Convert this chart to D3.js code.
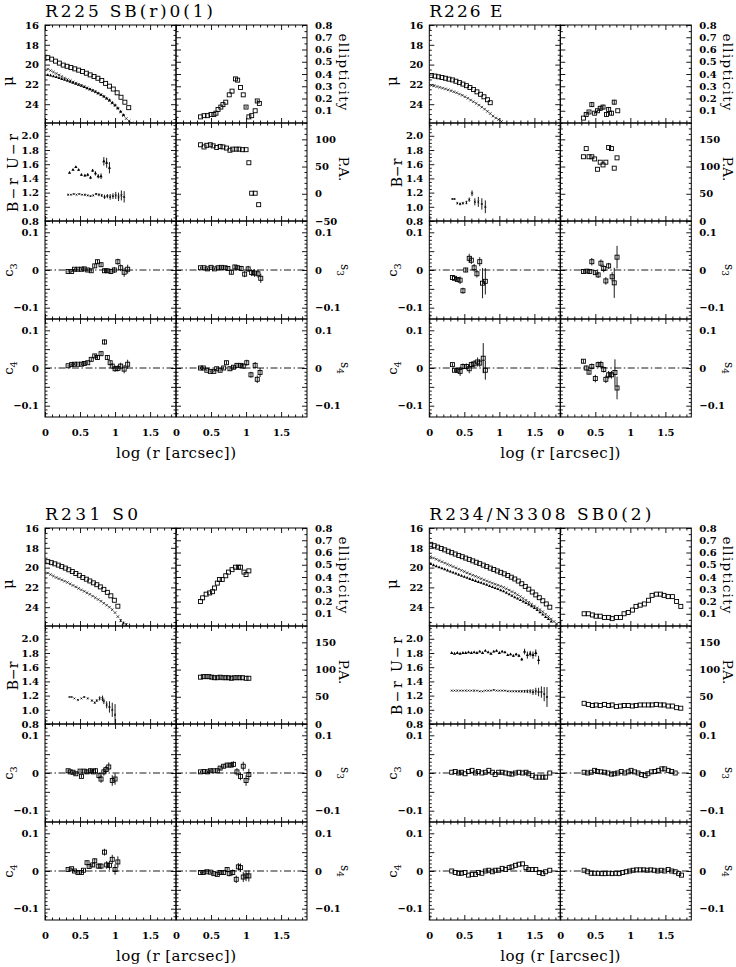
<!DOCTYPE html>
<html><head><meta charset="utf-8">
<script src="https://cdn.jsdelivr.net/npm/d3@7"></script>
<style>body{margin:0;background:#fff}</style>
</head><body>
<svg id="c" width="736" height="967"></svg>
<script>
// ---------------- DATA ----------------
const xTickLabels = [0, 0.5, 1, 1.5];
const muTicks = [16, 18, 20, 22, 24];
const ellTicks = [0.1, 0.2, 0.3, 0.4, 0.5, 0.6, 0.7, 0.8];
const colorTicks = [0.8, 1.0, 1.2, 1.4, 1.6, 1.8, 2.0];
const paTicksR225 = [-50, 0, 50, 100];
const paTicks = [0, 50, 100, 150];
const harmTicks = [-0.1, 0, 0.1];

const titles = ["R225  SB(r)0(1)", "R226  E", "R231  S0", "R234/N3308  SB0(2)"];

// R225  [log r, value, error]
const R225_muR = [[.04,19.3],[.095,19.45],[.15,19.65],[.205,19.85],[.26,20.05],[.315,20.17],[.37,20.3],[.425,20.43],[.48,20.56],[.535,20.7],[.59,20.87],[.645,21.04],[.70,21.2],[.755,21.38],[.81,21.6],[.865,21.9],[.92,22.18],[.975,22.47],[1.03,22.85],[1.085,23.3],[1.14,23.8],[1.195,24.35]];
const R225_muB = [[.04,20.45],[.08,20.6],[.12,20.75],[.16,20.9],[.2,21.05],[.24,21.2],[.28,21.35],[.32,21.5],[.36,21.62],[.4,21.75],[.44,21.87],[.48,22.0],[.52,22.1],[.56,22.22],[.6,22.35],[.64,22.48],[.68,22.6],[.72,22.75],[.76,22.9],[.8,23.05],[.84,23.25],[.88,23.45],[.92,23.65],[.96,23.9],[1.0,24.15],[1.04,24.45],[1.08,24.8],[1.12,25.15],[1.16,25.45],[1.2,25.7],[1.24,25.9]];
const R225_muU = [[.04,21.05],[.08,21.1],[.12,21.18],[.16,21.27],[.2,21.35],[.24,21.45],[.28,21.55],[.32,21.65],[.36,21.75],[.4,21.85],[.44,21.95],[.48,22.05],[.52,22.15],[.56,22.27],[.6,22.4],[.64,22.5],[.68,22.62],[.72,22.75],[.76,22.9],[.8,23.05],[.84,23.2],[.88,23.4],[.92,23.6],[.96,23.85],[1.0,24.1],[1.04,24.4],[1.08,24.75],[1.12,25.1]];
const R225_ell = [[.35,.05],[.40,.06],[.45,.06],[.50,.07],[.54,.07],[.57,.08],[.60,.11],[.64,.13],[.67,.15],[.71,.17],[.76,.23],[.80,.26],[.85,.36,.01],[.88,.35],[.92,.29],[.96,.23],[1.0,.13,.01],[1.04,.05],[1.08,.06],[1.13,.10],[1.16,.18,.01],[1.19,.16]];
const R225_pa = [[.35,90],[.40,86],[.44,89],[.49,90],[.53,88],[.58,85],[.63,87],[.67,86],[.72,84],[.77,80],[.81,82],[.86,82],[.90,82],[.95,81],[1.0,81],[1.04,57],[1.08,1],[1.13,1],[1.18,-20]];
const R225_UR = [[.35,1.48,.01],[.40,1.52,.01],[.44,1.56,.01],[.48,1.52,.01],[.52,1.45,.015],[.57,1.44,.015],[.61,1.45,.02],[.65,1.41,.02],[.68,1.51,.02],[.72,1.47,.03],[.76,1.43,.03],[.80,1.43,.04],[.84,1.64,.06],[.88,1.62,.07],[.92,1.55,.08]];
const R225_BR = [[.33,1.17,.005],[.37,1.17,.005],[.41,1.18,.005],[.45,1.17,.005],[.49,1.18,.005],[.53,1.17,.005],[.57,1.17,.01],[.61,1.16,.01],[.65,1.15,.01],[.69,1.16,.01],[.73,1.18,.015],[.77,1.17,.02],[.81,1.16,.02],[.85,1.14,.03],[.89,1.15,.03],[.93,1.14,.04],[.97,1.15,.04],[1.01,1.16,.05],[1.05,1.14,.06],[1.09,1.16,.07],[1.13,1.14,.08]];
const R225_c3 = [[.33,-.004,.003],[.38,-.004,.003],[.42,.002,.003],[.47,.002,.003],[.52,.002,.003],[.56,.003,.004],[.61,0,.004],[.66,-.002,.005],[.71,.011,.005],[.75,.022,.006],[.8,.014,.006],[.85,-.002,.006],[.89,-.002,.006],[.94,-.004,.007],[.99,0,.008],[1.04,.022,.008],[1.08,.006,.009],[1.13,-.006,.012],[1.18,.002,.012]];
const R225_s3 = [[.35,.006,.003],[.4,.006,.003],[.45,.003,.003],[.5,.007,.003],[.55,.003,.003],[.6,.006,.004],[.65,.007,.004],[.7,.006,.005],[.74,.004,.005],[.79,-.006,.005],[.84,.008,.006],[.88,.006,.006],[.93,.004,.007],[.98,-.011,.008],[1.03,.003,.008],[1.08,-.007,.009],[1.12,-.008,.01],[1.17,-.01,.01],[1.21,-.022,.012]];
const R225_c4 = [[.33,.006,.003],[.38,.009,.003],[.42,.01,.003],[.47,.01,.003],[.52,.01,.003],[.56,.012,.004],[.61,.014,.004],[.66,.023,.005],[.71,.032,.005],[.75,.028,.006],[.8,.038,.006],[.85,.069,.007],[.89,.028,.006],[.93,.014,.006],[.96,.005,.007],[1.0,-.002,.008],[1.04,-.001,.008],[1.08,.005,.009],[1.13,-.003,.011],[1.18,.01,.012]];
const R225_s4 = [[.35,0,.003],[.39,0,.003],[.44,-.006,.003],[.49,-.009,.003],[.54,-.009,.003],[.58,-.002,.004],[.63,-.006,.004],[.68,0,.004],[.72,.014,.005],[.77,-.002,.005],[.82,.002,.005],[.87,.007,.006],[.92,.007,.006],[.96,.005,.007],[1.01,.014,.008],[1.07,-.018,.008],[1.13,.007,.009],[1.16,-.03,.01],[1.2,-.012,.012]];

// R226
const R226_muR = [[.03,21.1],[.08,21.16],[.13,21.23],[.18,21.3],[.23,21.38],[.28,21.47],[.33,21.55],[.38,21.68],[.43,21.82],[.48,21.97],[.53,22.13],[.58,22.32],[.63,22.52],[.68,22.75],[.73,23.0],[.78,23.25],[.83,23.55],[.87,23.85]];
const R226_muB = [[.03,22.1],[.07,22.15],[.11,22.22],[.15,22.3],[.19,22.38],[.23,22.46],[.27,22.55],[.31,22.64],[.35,22.74],[.39,22.85],[.43,22.98],[.47,23.1],[.51,23.25],[.55,23.4],[.59,23.58],[.63,23.75],[.67,23.92],[.71,24.1],[.75,24.3],[.79,24.5],[.83,24.72],[.87,24.95],[.91,25.2],[.95,25.4],[.99,25.55],[1.03,25.75]];
const R226_muU = [];
const R226_ell = [[.33,.04],[.37,.07,.01],[.41,.09,.01],[.45,.15,.02],[.49,.08,.01],[.53,.10,.01],[.57,.12,.02],[.61,.13,.02],[.66,.07,.02],[.69,.11,.02],[.73,.08,.02],[.77,.17,.02],[.82,.10]];
const R226_pa = [[.33,118],[.37,133],[.41,118],[.45,118],[.49,114],[.53,95],[.57,108],[.61,103],[.65,108],[.69,135],[.73,133],[.77,97],[.81,116]];
const R226_UR = [];
const R226_BR = [[.33,1.11,.01],[.36,1.11,.01],[.40,1.05,.015],[.44,1.04,.02],[.48,1.05,.02],[.53,1.06,.025],[.57,1.10,.03],[.61,1.19,.04],[.65,1.07,.05],[.70,1.07,.07],[.75,1.04,.08],[.80,1.00,.09]];
const R226_c3 = [[.33,-.02,.004],[.36,-.022,.004],[.4,-.025,.005],[.44,-.027,.01],[.48,-.055,.008],[.52,0,.006],[.57,.031,.012],[.6,.026,.01],[.64,.006,.01],[.68,-.01,.01],[.72,.022,.012],[.76,-.035,.04],[.8,-.03,.035]];
const R226_s3 = [[.33,-.004,.005],[.38,-.003,.005],[.42,-.004,.005],[.45,.022,.01],[.5,-.007,.006],[.54,-.013,.008],[.58,.018,.01],[.62,.004,.01],[.65,-.029,.01],[.69,.011,.008],[.74,-.018,.012],[.77,-.034,.04],[.81,.034,.03]];
const R226_c4 = [[.33,.009,.004],[.36,-.006,.004],[.4,-.006,.006],[.44,-.009,.012],[.48,.004,.008],[.53,.004,.008],[.57,-.002,.012],[.6,.009,.008],[.64,.011,.01],[.69,.016,.012],[.72,.013,.01],[.77,.026,.04],[.8,-.006,.025]];
const R226_s4 = [[.33,.018,.005],[.37,0,.006],[.41,-.011,.006],[.45,.004,.008],[.5,-.028,.01],[.54,.009,.008],[.58,.009,.01],[.62,-.004,.008],[.65,-.03,.01],[.69,-.018,.01],[.73,-.018,.01],[.78,-.012,.035],[.81,-.053,.03]];

// R231
const R231_muR = [[.04,19.4],[.09,19.5],[.14,19.62],[.19,19.75],[.24,19.9],[.29,20.05],[.34,20.22],[.39,20.4],[.44,20.6],[.49,20.78],[.54,21.0],[.59,21.17],[.64,21.35],[.69,21.54],[.74,21.73],[.79,21.95],[.84,22.2],[.89,22.5],[.94,22.85],[.99,23.3],[1.04,23.9]];
const R231_muB = [[.04,20.55],[.08,20.7],[.12,20.85],[.16,21.0],[.2,21.12],[.24,21.25],[.28,21.37],[.32,21.5],[.36,21.65],[.4,21.8],[.44,21.95],[.48,22.1],[.52,22.25],[.56,22.4],[.6,22.55],[.64,22.7],[.68,22.88],[.72,23.05],[.76,23.22],[.8,23.4],[.84,23.6],[.88,23.8],[.92,24.0],[.96,24.25],[1.0,24.55],[1.04,24.95],[1.08,25.35,.15],[1.12,25.6,.15],[1.16,25.75,.15]];
const R231_muU = [];
const R231_ell = [[.35,.20],[.38,.23],[.43,.26],[.48,.27],[.52,.28],[.55,.31],[.59,.35],[.62,.38],[.66,.38],[.71,.41],[.75,.44],[.8,.46],[.85,.48],[.89,.48],[.92,.48],[.97,.44],[1.0,.42],[1.04,.45]];
const R231_pa = [[.35,86],[.39,87],[.43,87],[.47,87],[.51,86],[.55,85],[.59,85],[.63,86],[.67,85],[.71,85],[.75,85],[.79,84],[.83,85],[.87,85],[.91,85],[.95,85],[1.0,84],[1.04,84]];
const R231_UR = [];
const R231_BR = [[.35,1.18,.005],[.38,1.18,.005],[.42,1.16,.005],[.47,1.14,.008],[.52,1.16,.008],[.56,1.18,.01],[.61,1.16,.01],[.67,1.13,.015],[.71,1.10,.015],[.74,1.13,.02],[.78,1.16,.03],[.82,1.16,.04],[.84,1.12,.04],[.88,1.07,.05],[.92,1.04,.08],[.96,1.0,.1],[1.0,.93,.15]];
const R231_c3 = [[.33,.006,.003],[.36,.003,.003],[.4,.002,.003],[.44,-.002,.004],[.5,.005,.004],[.52,-.009,.004],[.56,.005,.005],[.6,.003,.005],[.65,.006,.006],[.69,.003,.006],[.72,.006,.007],[.77,-.007,.008],[.8,-.016,.01],[.84,.003,.01],[.87,.009,.01],[.91,.016,.012],[.96,-.02,.014],[1.0,-.016,.015]];
const R231_s3 = [[.35,.003,.003],[.4,.004,.003],[.45,.003,.003],[.49,.006,.004],[.54,.006,.004],[.59,.006,.004],[.63,.013,.005],[.68,.018,.005],[.73,.021,.006],[.78,.021,.007],[.82,.023,.008],[.87,.003,.01],[.92,-.009,.01],[.96,.018,.012],[1.0,-.02,.014],[1.04,-.004,.015]];
const R231_c4 = [[.33,.004,.003],[.38,.006,.003],[.42,0,.003],[.47,-.004,.004],[.52,-.004,.004],[.55,.002,.004],[.6,.022,.005],[.63,.012,.005],[.68,.016,.006],[.71,.027,.007],[.76,.013,.007],[.8,.013,.008],[.85,.05,.009],[.88,.016,.01],[.92,.015,.012],[.96,.031,.012],[1.0,.004,.014],[1.04,.024,.015]];
const R231_s4 = [[.35,-.004,.003],[.39,-.004,.003],[.44,-.002,.003],[.49,-.003,.004],[.54,-.007,.004],[.59,-.009,.004],[.63,-.004,.005],[.68,-.004,.005],[.73,.004,.006],[.76,-.007,.007],[.81,-.004,.008],[.86,-.022,.01],[.89,.011,.01],[.92,.009,.011],[.96,-.016,.013],[1.0,-.013,.014],[1.04,-.013,.015]];

// R234 / NGC 3308
const R234_muR = [[.02,17.65],[.07,17.79],[.12,17.93],[.17,18.07],[.22,18.21],[.27,18.35],[.32,18.49],[.37,18.63],[.42,18.77],[.47,18.9],[.52,19.04],[.57,19.17],[.62,19.32],[.67,19.46],[.72,19.6],[.77,19.75],[.82,19.9],[.87,20.05],[.92,20.19],[.97,20.34],[1.02,20.48],[1.07,20.63],[1.12,20.8],[1.17,20.97],[1.22,21.15],[1.27,21.36],[1.32,21.63],[1.37,21.9],[1.42,22.18],[1.47,22.47],[1.52,22.76],[1.57,23.04],[1.62,23.35],[1.67,23.67],[1.72,24.0]];
const R234_muB = [[.02,18.9],[.06,19.03],[.10,19.16],[.14,19.29],[.18,19.41],[.22,19.54],[.26,19.66],[.30,19.78],[.34,19.9],[.38,20.03],[.42,20.15],[.46,20.28],[.50,20.4],[.54,20.53],[.58,20.65],[.62,20.77],[.66,20.88],[.70,21.0],[.74,21.12],[.78,21.23],[.82,21.35],[.86,21.46],[.90,21.57],[.94,21.68],[.98,21.78],[1.02,21.89],[1.06,22.0],[1.10,22.14],[1.14,22.28],[1.18,22.43],[1.22,22.58],[1.26,22.74],[1.30,22.92],[1.34,23.12],[1.38,23.3],[1.42,23.5],[1.46,23.7],[1.50,23.88],[1.54,24.07],[1.58,24.25],[1.62,24.45],[1.66,24.7],[1.70,24.95],[1.74,25.2],[1.78,25.45],[1.82,25.7]];
const R234_muU = [[.02,19.65],[.06,19.76],[.10,19.87],[.14,19.97],[.18,20.08],[.22,20.18],[.26,20.29],[.30,20.4],[.34,20.5],[.38,20.61],[.42,20.72],[.46,20.83],[.50,20.93],[.54,21.04],[.58,21.15],[.62,21.25],[.66,21.35],[.70,21.45],[.74,21.55],[.78,21.65],[.82,21.75],[.86,21.86],[.90,21.97],[.94,22.07],[.98,22.18],[1.02,22.29],[1.06,22.4],[1.10,22.55],[1.14,22.7],[1.18,22.85],[1.22,23.0],[1.26,23.14],[1.30,23.29],[1.34,23.43],[1.38,23.58],[1.42,23.73],[1.46,23.9],[1.50,24.1],[1.54,24.3],[1.58,24.52],[1.62,24.75],[1.66,25.0],[1.70,25.2],[1.74,25.45]];
const R234_ell = [[.34,.10],[.40,.10],[.46,.09],[.51,.08],[.57,.08],[.63,.07],[.69,.07],[.74,.06],[.80,.07],[.86,.07],[.91,.10],[.97,.11],[1.03,.13],[1.08,.16],[1.14,.17],[1.20,.18],[1.26,.21],[1.31,.25],[1.37,.26],[1.43,.26],[1.48,.25],[1.54,.24],[1.60,.24],[1.66,.20],[1.72,.16]];
const R234_pa = [[.34,38],[.40,36],[.46,34],[.51,35],[.57,34],[.63,36],[.69,34],[.74,35],[.80,32],[.86,33],[.91,34],[.97,34],[1.03,33],[1.08,34],[1.14,35],[1.20,35],[1.26,35],[1.31,35],[1.37,36],[1.43,35],[1.48,35],[1.54,33],[1.60,33],[1.66,30],[1.72,29]];
const R234_UR = [[.32,1.80,.005],[.36,1.79,.005],[.40,1.80,.005],[.44,1.79,.005],[.48,1.80,.005],[.52,1.80,.005],[.56,1.81,.005],[.60,1.80,.005],[.64,1.81,.005],[.68,1.80,.005],[.72,1.82,.006],[.76,1.80,.006],[.80,1.83,.006],[.84,1.81,.007],[.88,1.79,.007],[.92,1.82,.008],[.96,1.83,.008],[1.00,1.80,.009],[1.04,1.82,.01],[1.08,1.81,.01],[1.12,1.77,.012],[1.16,1.78,.012],[1.20,1.76,.015],[1.24,1.78,.015],[1.28,1.76,.018],[1.32,1.71,.02],[1.36,1.82,.04],[1.40,1.77,.05],[1.44,1.79,.04],[1.48,1.77,.05],[1.52,1.80,.05],[1.56,1.70,.06]];
const R234_BR = [[.32,1.27,.003],[.36,1.27,.003],[.40,1.27,.003],[.44,1.27,.003],[.48,1.27,.003],[.52,1.27,.003],[.56,1.27,.003],[.60,1.27,.003],[.64,1.27,.003],[.68,1.27,.003],[.72,1.26,.003],[.76,1.26,.004],[.80,1.27,.004],[.84,1.27,.004],[.88,1.27,.004],[.92,1.28,.005],[.96,1.27,.005],[1.00,1.27,.006],[1.04,1.27,.006],[1.08,1.27,.007],[1.12,1.26,.008],[1.16,1.26,.009],[1.20,1.26,.01],[1.24,1.26,.012],[1.28,1.26,.014],[1.32,1.26,.016],[1.36,1.26,.02],[1.40,1.26,.025],[1.44,1.26,.03],[1.48,1.25,.04],[1.52,1.26,.05],[1.56,1.25,.06],[1.60,1.25,.08],[1.64,1.22,.1],[1.68,1.18,.14]];
const R234_c3 = [[.32,.002],[.37,.004],[.42,0],[.46,.002],[.51,-.002],[.56,.004],[.61,.007],[.66,0],[.70,.004],[.75,0],[.80,.002],[.85,.007],[.90,.002],[.94,-.004],[.99,.002],[1.04,.002],[1.09,0],[1.14,-.002],[1.18,-.003],[1.23,0],[1.28,.002],[1.33,0],[1.38,.002],[1.42,-.002],[1.47,-.007],[1.52,-.011],[1.57,-.011],[1.62,-.011],[1.66,-.011],[1.72,0]];
const R234_s3 = [[.34,.002],[.39,0],[.44,.002],[.49,.007],[.53,.004],[.58,.003],[.63,.002],[.68,0],[.73,-.003],[.77,-.002],[.82,0],[.87,.004],[.92,0],[.97,.003],[1.01,.007],[1.06,.003],[1.11,0],[1.16,-.004],[1.21,-.007],[1.25,-.002],[1.30,.003],[1.35,.004],[1.40,.007],[1.45,.011],[1.49,.011],[1.54,.007],[1.59,.004],[1.64,0]];
const R234_c4 = [[.32,0],[.37,-.004],[.42,-.006],[.46,-.006],[.51,-.004],[.56,-.011],[.61,-.009],[.66,-.009],[.70,-.004],[.75,-.006],[.80,0],[.85,.002],[.90,-.002],[.94,.002],[.99,.002],[1.04,.007],[1.09,.004],[1.14,.009],[1.18,.011],[1.23,.015],[1.28,.018],[1.33,.019],[1.38,.009],[1.42,.004],[1.47,.004],[1.52,.004],[1.57,-.004],[1.62,-.007],[1.66,-.002],[1.72,.002]];
const R234_s4 = [[.34,.002],[.39,-.002],[.44,-.006],[.49,-.006],[.54,-.006],[.59,-.007],[.64,-.007],[.69,-.006],[.74,-.007],[.79,-.006],[.84,-.007],[.89,-.004],[.94,-.002],[.99,0],[1.04,.002],[1.09,.003],[1.14,.003],[1.19,.003],[1.24,.002],[1.29,.003],[1.34,.002],[1.39,0],[1.44,.002],[1.49,0],[1.54,.004],[1.59,0],[1.64,-.002],[1.69,-.007],[1.73,-.011]];

// ---------------- LAYOUT ----------------
const PW = 131, RH = 98;
const FONT = "'DejaVu Serif', serif";
const TFONT = "'DejaVu Serif', serif";
const svg = d3.select("#c");

const galaxies = [
  {ox:45, oy:25, title:titles[0], tlen:168, muR:R225_muR, muB:R225_muB, muU:R225_muU, ell:R225_ell, pa:R225_pa, ur:R225_UR, br:R225_BR, c3:R225_c3, s3:R225_s3, c4:R225_c4, s4:R225_s4, paDom:[-50,130], paT:paTicksR225, colLab:"B\u2212r U\u2212r", colLen:78},
  {ox:429.3, oy:25, title:titles[1], tlen:73, muR:R226_muR, muB:R226_muB, muU:R226_muU, ell:R226_ell, pa:R226_pa, ur:R226_UR, br:R226_BR, c3:R226_c3, s3:R226_s3, c4:R226_c4, s4:R226_s4, paDom:[0,180], paT:paTicks, colLab:"B\u2212r", colLen:null},
  {ox:45, oy:528, title:titles[2], tlen:93, muR:R231_muR, muB:R231_muB, muU:R231_muU, ell:R231_ell, pa:R231_pa, ur:R231_UR, br:R231_BR, c3:R231_c3, s3:R231_s3, c4:R231_c4, s4:R231_s4, paDom:[0,180], paT:paTicks, colLab:"B\u2212r", colLen:null},
  {ox:429.3, oy:528, title:titles[3], tlen:222, muR:R234_muR, muB:R234_muB, muU:R234_muU, ell:R234_ell, pa:R234_pa, ur:R234_UR, br:R234_BR, c3:R234_c3, s3:R234_s3, c4:R234_c4, s4:R234_s4, paDom:[0,180], paT:paTicks, colLab:"B\u2212r U\u2212r", colLen:78}
];

const xs = d3.scaleLinear().domain([0, 1.87]).range([0, PW]);
const xMinor = d3.range(0, 1.875, 0.1).filter(v => Math.abs(v*2 - Math.round(v*2)) > 1e-6);
const xMajor = xTickLabels;
const fmtNum = v => (v < 0 ? "\u2212" : "") + String(Math.abs(Math.round(v*100)/100));
const fmt1 = v => (v < 0 ? "\u2212" : "") + Math.abs(v).toFixed(1);
let clipId = 0;

function styleAxis(sel, fs) {
  sel.select(".domain").remove();
  sel.attr("font-family", FONT).attr("font-size", fs).attr("font-weight", "bold");
  sel.selectAll("line").attr("stroke", "#000").attr("stroke-width", 0.9);
  sel.selectAll("text").attr("fill", "#000");
}

function subplot(parent, gx, gy, ys, yMaj, yMin, yLabVals, yFmt, side, xLabels) {
  const g = parent.append("g").attr("transform", `translate(${gx},${gy})`);
  const L = 5, S = 2.5;
  [["left", 0, d3.axisLeft], ["right", PW, d3.axisRight]].forEach(([s, pos, mk]) => {
    const a = g.append("g").attr("transform", `translate(${pos},0)`);
    a.call(mk(ys).tickValues(yMin).tickSizeInner(-S).tickSizeOuter(0).tickFormat(() => ""));
    styleAxis(a, 10);
    const b = g.append("g").attr("transform", `translate(${pos},0)`);
    b.call(mk(ys).tickValues(yMaj).tickSizeInner(-L).tickSizeOuter(0)
      .tickPadding(s === "left" ? 6 : 8)
      .tickFormat(v => (s === side && yLabVals.some(t => Math.abs(t - v) < 1e-9)) ? yFmt(v) : ""));
    styleAxis(b, 10);
  });
  [["top", 0, d3.axisTop], ["bottom", RH, d3.axisBottom]].forEach(([s, pos, mk]) => {
    const a = g.append("g").attr("transform", `translate(0,${pos})`);
    a.call(mk(xs).tickValues(xMinor).tickSizeInner(-S).tickSizeOuter(0).tickFormat(() => ""));
    styleAxis(a, 10);
    const b = g.append("g").attr("transform", `translate(0,${pos})`);
    b.call(mk(xs).tickValues(xMajor).tickSizeInner(-L).tickSizeOuter(0).tickPadding(12)
      .tickFormat(v => (s === "bottom" && xLabels) ? fmtNum(v) : ""));
    styleAxis(b, 10);
  });
  g.append("rect").attr("width", PW).attr("height", RH).attr("fill", "none")
    .attr("stroke", "#000").attr("stroke-width", 1);
  const id = "clip" + (clipId++);
  g.append("clipPath").attr("id", id).append("rect").attr("width", PW).attr("height", RH);
  return g.append("g").attr("clip-path", `url(#${id})`);
}

function errBars(g, data, ys) {
  g.selectAll(null).data(data.filter(d => d[2])).enter().append("line")
    .attr("x1", d => xs(d[0])).attr("x2", d => xs(d[0]))
    .attr("y1", d => ys(d[1] - d[2])).attr("y2", d => ys(d[1] + d[2]))
    .attr("stroke", "#000").attr("stroke-width", 0.9);
}
function squares(g, data, ys, sz) {
  errBars(g, data, ys);
  const h = sz / 2;
  g.selectAll(null).data(data).enter().append("rect")
    .attr("x", d => xs(d[0]) - h).attr("y", d => ys(d[1]) - h)
    .attr("width", sz).attr("height", sz)
    .attr("fill", "none").attr("stroke", "#000").attr("stroke-width", 0.9);
}
function crosses(g, data, ys, r, sw) {
  errBars(g, data, ys);
  g.selectAll(null).data(data).enter().append("path")
    .attr("d", d => { const x = xs(d[0]), y = ys(d[1]);
      return `M${x-r},${y-r}L${x+r},${y+r}M${x-r},${y+r}L${x+r},${y-r}`; })
    .attr("stroke", "#000").attr("stroke-width", sw).attr("fill", "none");
}
function tris(g, data, ys, area) {
  errBars(g, data, ys);
  const sym = d3.symbol().type(d3.symbolTriangle).size(area);
  g.selectAll(null).data(data).enter().append("path")
    .attr("d", sym).attr("transform", d => `translate(${xs(d[0])},${ys(d[1])})`)
    .attr("fill", "#000");
}
function zeroLine(g, ys) {
  g.append("line").attr("x1", 0).attr("x2", PW).attr("y1", ys(0)).attr("y2", ys(0))
    .attr("stroke", "#000").attr("stroke-width", 0.9).attr("stroke-dasharray", "7,2.5,1.5,2.5");
}
function rotText(x, y, ang, str, fs, len, sub) {
  const t = svg.append("text").attr("transform", `translate(${x},${y}) rotate(${ang})`)
    .attr("text-anchor", "middle").attr("font-family", TFONT).attr("font-size", fs).attr("fill", "#000");
  t.append("tspan").text(str);
  if (sub) t.append("tspan").attr("font-size", fs * 0.75).attr("dy", fs * 0.3).text(sub);
  if (len) t.attr("textLength", len).attr("lengthAdjust", "spacing");
  return t;
}

galaxies.forEach(G => {
  const {ox, oy} = G;
  svg.append("text").attr("x", ox).attr("y", oy - 8).attr("font-family", TFONT)
    .attr("font-size", 17).attr("textLength", G.tlen).attr("lengthAdjust", "spacing")
    .attr("fill", "#000").text(G.title);

  const yMu = d3.scaleLinear().domain([16, 25.9]).range([0, RH]);
  const yEll = d3.scaleLinear().domain([0, 0.8]).range([RH, 0]);
  const yCol = d3.scaleLinear().domain([0.8, 2.18]).range([RH, 0]);
  const yPA = d3.scaleLinear().domain(G.paDom).range([RH, 0]);
  const yH = d3.scaleLinear().domain([-0.13, 0.13]).range([RH, 0]);

  const muMin = d3.range(16, 25.9, 0.5).filter(v => v % 2 !== 0);
  const ellMin = d3.range(0.05, 0.8, 0.1);
  const colMaj = d3.range(0.8, 2.19, 0.2);
  const colMin = d3.range(0.85, 2.18, 0.05).filter(v => Math.abs(v*5 - Math.round(v*5)) > 1e-6);
  const paMaj = d3.range(G.paDom[0], G.paDom[1] + 1, 50);
  const paMin = d3.range(G.paDom[0], G.paDom[1] + 0.1, 10).filter(v => v % 50 !== 0);
  const hMaj = [-0.1, -0.05, 0, 0.05, 0.1];
  const hMin = d3.range(-0.12, 0.125, 0.01).filter(v => Math.abs(v*20 - Math.round(v*20)) > 1e-6);

  let p = subplot(svg, ox, oy, yMu, muTicks, muMin, muTicks, v => String(v), "left", false);
  crosses(p, G.muB, yMu, 1.3, 0.7);
  tris(p, G.muU, yMu, 4.5);
  squares(p, G.muR, yMu, 4);
  p = subplot(svg, ox + PW, oy, yEll, ellTicks, ellMin, ellTicks, fmt1, "right", false);
  squares(p, G.ell, yEll, 4);

  p = subplot(svg, ox, oy + RH, yCol, colMaj, colMin, colorTicks, fmt1, "left", false);
  tris(p, G.ur, yCol, 4.5);
  crosses(p, G.br, yCol, 0.9, 0.8);
  p = subplot(svg, ox + PW, oy + RH, yPA, paMaj, paMin, G.paT, fmtNum, "right", false);
  squares(p, G.pa, yPA, 4);

  p = subplot(svg, ox, oy + 2*RH, yH, hMaj, hMin, harmTicks, fmtNum, "left", false);
  zeroLine(p, yH); squares(p, G.c3, yH, 4);
  p = subplot(svg, ox + PW, oy + 2*RH, yH, hMaj, hMin, harmTicks, fmtNum, "right", false);
  zeroLine(p, yH); squares(p, G.s3, yH, 4);

  p = subplot(svg, ox, oy + 3*RH, yH, hMaj, hMin, harmTicks, fmtNum, "left", true);
  zeroLine(p, yH); squares(p, G.c4, yH, 4);
  p = subplot(svg, ox + PW, oy + 3*RH, yH, hMaj, hMin, harmTicks, fmtNum, "right", true);
  zeroLine(p, yH); squares(p, G.s4, yH, 4);

  rotText(ox - 32, oy + 56, -90, "\u03bc", 15);
  rotText(ox - 27, oy + RH + 50, -90, G.colLab, 14, G.colLen);
  rotText(ox - 32, oy + 2*RH + 49, -90, "c", 13, null, "3");
  rotText(ox - 32, oy + 3*RH + 49, -90, "c", 13, null, "4");
  rotText(ox + 2*PW + 32, oy + 47, 90, "ellipticity", 13.5, 77);
  rotText(ox + 2*PW + 32, oy + RH + 46, 90, "P.A.", 13.5);
  rotText(ox + 2*PW + 34, oy + 2*RH + 49, 90, "s", 12, null, "3");
  rotText(ox + 2*PW + 34, oy + 3*RH + 49, 90, "s", 12, null, "4");
  svg.append("text").attr("x", ox + PW).attr("y", oy + 4*RH + 41).attr("text-anchor", "middle")
    .attr("font-family", TFONT).attr("font-size", 15).attr("textLength", 120)
    .attr("lengthAdjust", "spacing").attr("fill", "#000").text("log (r [arcsec])");
});
</script>
</body></html>
